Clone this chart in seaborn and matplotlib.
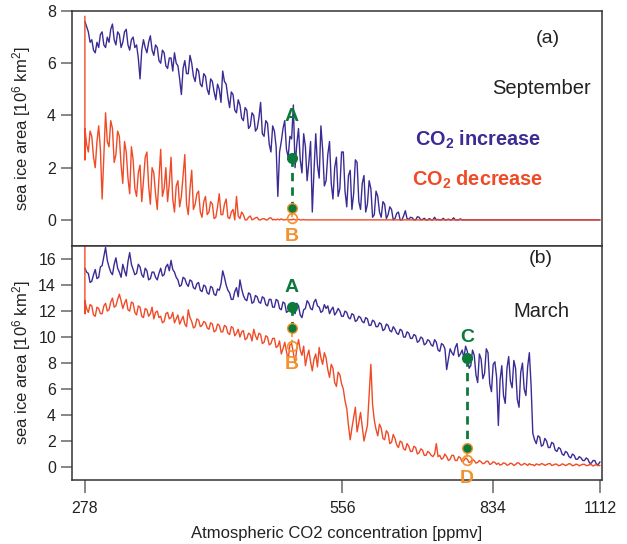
import numpy as np
import pandas as pd
import matplotlib
matplotlib.use('Agg')
import matplotlib.pyplot as plt
import seaborn as sns
from matplotlib.ticker import NullLocator

# CO2 grid (ppmv), evenly spaced in log (ramp in time)
co2_start, co2_end, n_pts = 278, 1112, 300
co2 = np.geomspace(co2_start, co2_end, n_pts)
# decrease run ends with extra years held at 278 ppmv
co2_down = np.concatenate([[278, 278], co2])

# September sea ice area [10^6 km^2]
sep_increase = [
    7.6, 7.4, 7.2, 6.8, 6.9, 6.5, 6.4, 6.8, 6.6, 7.1,
    7.2, 6.7, 6.6, 7.0, 6.8, 7.3, 7.5, 6.9, 6.7, 7.2,
    7.1, 6.6, 6.8, 7.2, 7.3, 6.7, 6.5, 6.9, 7.0, 6.6,
    6.7, 6.2, 5.4, 6.5, 6.9, 6.6, 6.4, 6.8, 7.05, 6.5,
    6.3, 6.7, 6.6, 6.1, 6.0, 6.5, 6.4, 5.9, 5.8, 6.2,
    6.2, 5.7, 6.4, 6.0, 5.9, 5.4, 4.8, 5.8, 6.1, 5.6,
    5.6, 6.3, 6.0, 5.5, 5.3, 5.8, 5.7, 5.2, 5.1, 5.6,
    5.5, 5.0, 4.8, 5.4, 5.3, 4.9, 4.6, 5.2, 5.0, 4.5,
    5.7, 5.3, 5.2, 4.7, 4.3, 4.9, 4.8, 4.2, 4.1, 4.6,
    4.4, 3.9, 3.8, 4.3, 4.2, 3.5, 3.6, 4.1, 4.0, 3.4,
    3.5, 3.9, 4.5, 3.3, 3.2, 3.8, 3.7, 2.9, 2.6, 3.6,
    3.4, 2.8, 0.9, 2.6, 3.0, 3.5, 3.8, 2.7, 2.4, 3.2,
    3.1, 4.4, 2.0, 2.9, 3.5, 2.3, 1.8, 3.3, 2.8, 1.5,
    2.2, 3.0, 0.3, 1.9, 3.3, 2.1, 1.6, 3.6, 2.7, 1.3,
    1.5, 2.5, 3.0, 1.4, 0.8, 2.0, 2.4, 0.9, 1.2, 2.6,
    2.6, 1.1, 0.5, 1.7, 1.9, 0.4, 1.0, 2.3, 2.2, 0.7,
    0.4, 1.4, 1.7, 0.3, 0.6, 1.5, 1.2, 0.1, 0.2, 1.1,
    0.9, 0.3, 0.1, 0.7, 0.6, 0.05, 0.2, 0.5, 0.4, 0.0,
    0.05, 0.25, 0.3, 0.0, 0.0, 0.15, 0.35, 0.05, 0.02, 0.1,
    0.08, 0.0, 0.0, 0.12, 0.1, 0.0, 0.02, 0.06, 0.0, 0.0,
    0.05, 0.0, 0.0, 0.1, 0.0, 0.02, 0.0, 0.0, 0.06, 0.0,
    0.0, 0.03, 0.0, 0.0, 0.08, 0.0, 0.0, 0.0, 0.04, 0.0,
] + [0.0] * 80
sep_decrease = [
    7.8, 2.3,
    3.5, 2.9, 2.6, 3.4, 3.2, 2.4, 2.0, 3.0, 3.6, 2.7,
    0.8, 2.5, 4.1, 3.0, 2.8, 3.8, 3.5, 2.2, 2.5, 3.4,
    3.2, 2.1, 1.4, 3.0, 2.6, 1.6, 1.0, 2.8, 2.3, 1.2,
    0.9, 1.8, 2.1, 0.7, 1.5, 2.4, 2.6, 1.3, 0.6, 2.0,
    1.8, 1.0, 0.4, 1.6, 2.7, 0.9, 1.2, 2.0, 0.7, 1.4,
    2.4, 0.8, 0.3, 1.3, 1.5, 0.5, 0.9, 1.7, 2.5, 0.6,
    0.2, 1.2, 1.9, 0.4, 0.6, 1.0, 1.1, 0.3, 0.1, 0.7,
    0.9, 0.2, 0.3, 0.7, 0.6, 0.05, 0.1, 0.5, 1.0, 0.2,
    0.2, 0.6, 0.8, 0.1, 0.05, 0.3, 0.4, 0.0, 0.9, 0.15,
    0.05, 0.3, 0.2, 0.0, 0.0, 0.1, 0.15, 0.0, 0.03, 0.08,
    0.1, 0.0, 0.0, 0.04, 0.05, 0.0, 0.0, 0.07, 0.08, 0.0,
    0.02, 0.0, 0.03, 0.0, 0.04, 0.0, 0.0, 0.02, 0.0, 0.01,
    0.0, 0.03, 0.0, 0.0, 0.02, 0.0, 0.0, 0.01, 0.0, 0.0,
] + [0.0] * 170

# March sea ice area [10^6 km^2]
mar_increase = [
    15.3, 15.0, 14.9, 14.2, 14.3, 14.8, 15.2, 14.5, 14.6, 15.4,
    15.5, 16.2, 16.9, 15.9, 15.4, 15.0, 14.8, 15.6, 16.1, 15.3,
    15.0, 14.6, 15.6, 15.1, 14.7, 15.8, 16.5, 15.6, 15.2, 14.8,
    14.9, 15.6, 15.4, 14.8, 14.6, 15.3, 15.1, 14.4, 14.5, 15.0,
    15.0, 14.6, 14.4, 14.9, 15.3, 14.7, 14.8, 15.4, 15.6, 15.1,
    15.9, 15.2, 15.0, 14.6, 14.4, 13.9, 14.0, 14.6, 14.5, 14.1,
    13.9, 14.4, 14.3, 13.8, 13.7, 14.1, 14.2, 13.6, 13.5, 14.0,
    13.9, 13.4, 13.3, 13.9, 13.8, 13.3, 13.2, 13.7, 13.6, 14.1,
    15.1, 14.6, 14.0, 13.6, 13.4, 12.9, 12.9, 13.5, 13.8, 13.1,
    14.4, 13.7, 13.2, 12.9, 12.8, 13.4, 13.3, 12.6, 12.7, 13.2,
    13.1, 12.7, 12.6, 13.1, 13.0, 12.5, 12.4, 12.9, 12.9, 12.3,
    12.3, 12.9, 12.8, 12.2, 12.1, 12.7, 12.6, 11.9, 12.0, 12.5,
    12.5, 12.0, 11.8, 12.6, 12.4, 11.7, 11.5, 12.1, 12.2, 12.8,
    12.6, 12.2, 12.1, 12.7, 12.9, 12.4, 12.3, 11.9, 12.0, 12.5,
    12.2, 12.4, 11.8, 12.1, 12.3, 11.7, 11.9, 12.2, 12.0, 11.6,
    11.6, 12.0, 11.9, 11.5, 11.4, 11.8, 11.7, 11.2, 11.3, 11.6,
    11.5, 11.2, 11.1, 11.5, 11.4, 10.9, 10.9, 11.3, 11.2, 10.8,
    10.8, 11.1, 11.0, 10.5, 10.6, 11.0, 10.9, 10.5, 10.4, 10.8,
    10.6, 10.3, 10.2, 10.6, 10.5, 10.0, 10.0, 10.4, 10.3, 9.9,
    9.9, 10.2, 10.1, 9.6, 9.7, 10.0, 9.9, 9.4, 9.5, 9.8,
    9.7, 9.4, 9.3, 9.8, 9.6, 9.0, 8.9, 9.5, 9.4, 9.1,
    7.5, 8.3, 9.1, 8.8, 8.6, 9.2, 9.5, 8.5, 8.7, 9.0,
    8.4, 9.3, 8.9, 7.6, 7.8, 9.0, 8.6, 7.1, 6.5, 8.7,
    8.3, 6.8, 7.2, 9.1, 8.8, 6.4, 5.8, 7.9, 8.1, 6.9,
    3.2, 6.7, 7.8, 5.5, 4.9, 7.6, 8.5, 6.6, 6.1, 8.2,
    7.6, 5.2, 4.6, 7.3, 8.0, 6.0, 5.5, 7.7, 8.8, 6.3,
    2.6, 2.1, 1.8, 2.4, 2.3, 1.6, 1.7, 2.2, 2.0, 1.5,
    1.5, 1.9, 1.8, 1.3, 1.2, 1.5, 1.4, 1.0, 0.9, 1.2,
    1.1, 0.8, 0.7, 1.0, 0.9, 0.6, 0.6, 0.8, 0.7, 0.5,
    0.5, 0.7, 0.6, 0.3, 0.3, 0.5, 0.5, 0.2, 0.2, 0.4,
]
mar_decrease = [
    17.5, 11.8,
    12.8, 12.2, 11.9, 12.5, 12.4, 11.7, 11.6, 12.3, 12.2, 11.8,
    11.8, 12.4, 12.6, 12.0, 12.1, 12.7, 13.0, 12.3, 12.4, 12.9,
    13.3, 12.8, 12.2, 12.6, 12.9, 12.1, 12.0, 12.7, 12.6, 11.9,
    11.7, 12.4, 12.3, 11.6, 11.5, 12.2, 12.1, 11.6, 11.8, 12.3,
    11.4, 11.9, 12.0, 11.5, 11.6, 11.1, 11.2, 11.8, 11.9, 11.4,
    11.5, 11.9, 11.1, 11.4, 11.7, 11.0, 11.3, 11.6, 11.0, 10.8,
    12.1, 11.5, 11.2, 10.7, 10.8, 11.4, 11.3, 10.8, 10.9, 11.2,
    11.1, 10.7, 10.6, 11.1, 11.0, 10.4, 10.5, 11.0, 10.9, 10.4,
    10.4, 10.9, 10.8, 10.3, 10.2, 10.8, 10.7, 10.1, 10.3, 10.6,
    10.0, 10.4, 10.5, 9.8, 9.9, 10.3, 10.2, 9.7, 10.6, 10.1,
    9.8, 10.3, 10.2, 9.5, 9.6, 10.1, 10.0, 9.4, 9.5, 9.9,
    9.9, 9.2, 9.3, 9.7, 8.7, 9.1, 9.6, 8.9, 8.2, 9.4,
    9.5, 8.8, 8.0, 9.1, 9.8, 9.0, 8.6, 9.3, 7.8, 8.5,
    9.0, 8.1, 7.4, 8.3, 8.7, 7.7, 9.2, 8.4, 7.9, 8.8,
    8.4, 7.5, 6.9, 7.9, 7.6, 6.5, 6.2, 7.3, 7.1, 6.4,
    6.0, 5.1, 4.5, 3.2, 2.1, 3.0, 3.8, 4.6, 2.7, 3.4,
    4.2, 3.1, 2.0, 2.6, 3.2, 5.5, 7.9, 4.8, 3.6, 2.9,
    2.4, 3.3, 3.0, 2.2, 2.1, 2.8, 2.6, 1.8, 1.9, 2.5,
    2.2, 1.7, 1.5, 2.0, 1.9, 1.4, 1.3, 1.8, 1.6, 1.2,
    1.2, 1.6, 1.5, 1.0, 1.1, 1.4, 1.3, 0.9, 0.9, 1.2,
    1.1, 0.9, 0.8, 1.0, 1.8, 0.8, 0.9, 0.6, 0.7, 1.0,
    0.8, 0.5, 0.6, 0.9, 0.9, 0.5, 0.5, 0.8, 0.7, 0.4,
    0.5, 0.7, 0.6, 0.35, 0.4, 0.6, 0.5, 0.3, 0.35, 0.5,
    0.4, 0.25, 0.3, 0.45, 0.45, 0.2, 0.25, 0.4, 0.35, 0.2,
    0.3, 0.15, 0.2, 0.32, 0.28, 0.14, 0.18, 0.3, 0.25, 0.12,
    0.2, 0.33, 0.3, 0.15, 0.17, 0.28, 0.22, 0.12, 0.26, 0.18,
    0.18, 0.1, 0.24, 0.2, 0.15, 0.27, 0.22, 0.13, 0.19, 0.25,
    0.27, 0.12, 0.16, 0.23, 0.21, 0.1, 0.14, 0.24, 0.2, 0.11,
    0.17, 0.26, 0.23, 0.1, 0.13, 0.22, 0.19, 0.09, 0.16, 0.21,
    0.21, 0.11, 0.12, 0.19, 0.18, 0.08, 0.15, 0.17, 0.1, 0.12,
]

# highlighted states: co2, increase value, lower value, decrease value
sep_points = {'A': (485, 2.37, 0.45, 0.07)}
mar_points = {'A': (485, 12.3, 10.7, 9.3), 'C': (777, 8.4, 1.45, 0.55)}

blue = '#3a2c94'
red = '#f04a26'
green = '#0b7a3b'
orange = '#f3922c'

sns.set_style('ticks')
plt.rcParams['font.family'] = ['Liberation Sans', 'DejaVu Sans']
plt.rcParams['mathtext.fontset'] = 'custom'
plt.rcParams['mathtext.rm'] = 'Liberation Sans'
plt.rcParams['mathtext.bf'] = 'Liberation Sans:bold'
plt.rcParams['mathtext.it'] = 'Liberation Sans:italic'

fig = plt.figure(figsize=(6.27, 5.44), dpi=100)
ax_top = fig.add_axes([0.1148, 0.5478, 0.8453, 0.432])
ax_bot = fig.add_axes([0.1148, 0.1176, 0.8453, 0.430], sharex=ax_top)


def draw(ax, inc, dec, points, low_names, lbl_off):
    sns.lineplot(x=co2, y=inc, ax=ax, color=blue, lw=1.0,
                 estimator=None, sort=False)
    sns.lineplot(x=co2_down, y=dec, ax=ax, color=red, lw=1.0,
                 estimator=None, sort=False)
    for (name, (xc, yi, ylow, yd)), low_name in zip(points.items(), low_names):
        ax.plot([xc, xc], [yi, ylow], color=green, lw=2, ls=(0, (3, 2.2)))
        ax.plot([xc, xc], [ylow, yd], color=orange, lw=1.2, ls=(0, (2, 1.5)))
        ax.plot(xc, yd, 'o', ms=7, mfc='none', mec=orange, mew=1.2)
        ax.plot(xc, ylow, 'o', ms=7, mfc=green, mec=orange, mew=1.0)
        ax.plot(xc, yi, 'o', ms=7, color=green)
        ax.text(xc, yi + lbl_off[0], name, color=green, fontsize=14,
                fontweight='bold', ha='center', va='center')
        ax.text(xc, yd - lbl_off[1], low_name, color=orange, fontsize=14,
                fontweight='bold', ha='center', va='center')


draw(ax_top, sep_increase, sep_decrease, sep_points, ['B'], (1.58, 0.72))
draw(ax_bot, mar_increase, mar_decrease, mar_points, ['B', 'D'], (1.55, 1.4))

ax_top.set_xscale('log')
ax_top.set_xlim(268.5, 1118)
ax_top.set_ylim(-1, 8)
ax_bot.set_ylim(-1, 17)
ax_top.set_yticks([0, 2, 4, 6, 8])
ax_bot.set_yticks(range(0, 17, 2))
ax_bot.set_xticks([278, 556, 834, 1112])
ax_bot.set_xticklabels(['278', '556', '834', '1112'])
ax_bot.xaxis.set_minor_locator(NullLocator())
ax_top.tick_params(axis='x', which='both', bottom=False, labelbottom=False)

for ax in (ax_top, ax_bot):
    for s in ax.spines.values():
        s.set_visible(True)
        s.set_color('#333333')
        s.set_linewidth(1.1)
    ax.tick_params(axis='y', direction='out', length=8, width=1.1,
                   color='#666666', labelsize=11.5, labelcolor='#222222')
    ax.set_ylabel('sea ice area [10$^6$ km$^2$]', fontsize=12, color='#222222')
    ax.yaxis.set_label_coords(-0.074, 0.5)
    ax.set_xlabel('')

ax_bot.tick_params(axis='x', direction='out', length=9, width=1.1, pad=6,
                   color='#666666', labelsize=11.5, labelcolor='#222222')
ax_bot.set_xlabel('Atmospheric CO2 concentration [ppmv]', fontsize=12,
                  color='#222222', labelpad=7)

ax_top.text(0.898, 0.885, '(a)', transform=ax_top.transAxes, fontsize=14,
            ha='center', va='center', color='#222222')
ax_top.text(0.885, 0.672, 'September', transform=ax_top.transAxes, fontsize=14.5,
            ha='center', va='center', color='#222222')
ax_top.text(0.766, 0.451, r'CO$_\mathbf{2}$ increase', transform=ax_top.transAxes,
            fontsize=14.3, fontweight='bold', ha='center', va='center', color=blue)
ax_top.text(0.766, 0.281, r'CO$_\mathbf{2}$ decrease', transform=ax_top.transAxes,
            fontsize=14.3, fontweight='bold', ha='center', va='center', color=red)
ax_bot.text(0.885, 0.949, '(b)', transform=ax_bot.transAxes, fontsize=14,
            ha='center', va='center', color='#222222')
ax_bot.text(0.885, 0.722, 'March', transform=ax_bot.transAxes, fontsize=14.5,
            ha='center', va='center', color='#222222')

fig.savefig('out.png', dpi=100)
